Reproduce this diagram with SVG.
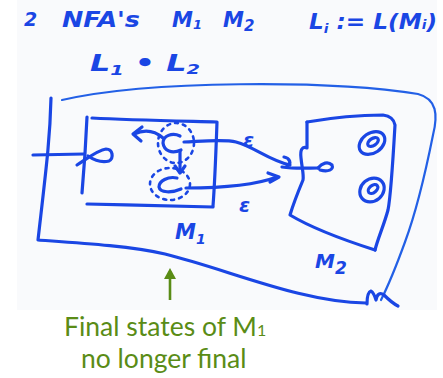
<svg xmlns="http://www.w3.org/2000/svg" width="443" height="378" viewBox="0 0 443 378">
  <style>
    .ink { fill: none; stroke: #1a46e4; stroke-width: 3.2; stroke-linecap: round; stroke-linejoin: round; }
    .thin { fill: none; stroke: #2360e6; stroke-width: 2.2; stroke-linecap: round; stroke-linejoin: round; }
    .dot { fill: none; stroke: #1a46e4; stroke-width: 2.6; stroke-dasharray: 3 5; stroke-linecap: round; }
    .hand { fill: #1a46e4; font-family: "DejaVu Sans", "Liberation Sans", sans-serif; font-weight: bold; font-style: oblique; }
    .note { fill: #5a8c16; font-family: Lato, "Noto Sans", sans-serif; font-size: 26.5px; }
    .green { fill: none; stroke: #5a8c16; stroke-width: 2.6; }
  </style>

  <!-- whiteboard photo background -->
  <rect x="17" y="0" width="420" height="310" fill="#f9fafc"/>

  <!-- heading -->
  <g id="heading">
    <text class="hand" x="24" y="26" font-size="19">2</text>
    <text class="hand" x="62" y="27" font-size="21" textLength="78" lengthAdjust="spacingAndGlyphs">NFA's</text>
    <text class="hand" x="172" y="27" font-size="21">M<tspan font-size="13" dy="2">1</tspan></text>
    <text class="hand" x="223" y="27" font-size="21">M<tspan font-size="15" dy="4">2</tspan></text>
    <text class="hand" x="309" y="29" font-size="22" textLength="128" lengthAdjust="spacingAndGlyphs">L<tspan font-size="13" dy="4">i</tspan><tspan dy="-4"> := L(M</tspan><tspan font-size="13">i</tspan>)</text>
    <text class="hand" x="90" y="71" font-size="23" textLength="110" lengthAdjust="spacingAndGlyphs">L<tspan font-size="14" dy="4">1</tspan><tspan dy="-4"> • L</tspan><tspan font-size="14" dy="3">2</tspan></text>
  </g>

  <!-- combined machine outline -->
  <g id="outline">
    <path class="thin" d="M62,100 C150,80 330,80 418,94 C437,99 438,115 433,135 C425,175 415,215 405,242 C397,264 390,282 381,300"/>
    <path class="ink" d="M51,98 C50,140 46,170 38,240 C80,243 130,246 165,254 C230,270 300,302 366,303"/>
    <path class="ink" d="M367,304 C367,298 368,292 371,291 C374,293 375,297 376,300 C377,294 380,292 384,295 C388,299 392,303 398,306"/>
  </g>

  <!-- M1 -->
  <g id="m1">
    <path class="ink" d="M92,118 C130,120 180,121 217,122 C216,150 215,180 213,206"/>
    <path class="ink" d="M87,204 C130,205 180,206 213,207"/>
    <path class="ink" d="M87,117 C86,140 84,170 82,193"/>
    <text class="hand" x="175" y="239" font-size="21">M<tspan font-size="14" dy="5">1</tspan></text>
  </g>

  <!-- start state of M1 -->
  <g id="m1-start">
    <path class="ink" d="M77,165 C88,158 98,150 106,149 C113,149 114,158 109,161 C102,163 94,160 88,156"/>
  </g>

  <!-- former final states of M1 -->
  <g id="m1-final-a">
    <path class="ink" d="M180,136 C172,132 163,136 163,143 C164,151 172,154 181,150"/>
    <ellipse class="dot" cx="176" cy="143" rx="18" ry="20"/>
  </g>
  <g id="m1-final-b">
    <path class="ink" d="M177,178 C168,176 159,181 159,187 C160,193 172,193 181,189"/>
    <ellipse class="dot" cx="170" cy="184" rx="20" ry="16"/>
  </g>

  <!-- M2 -->
  <g id="m2">
    <path class="ink" d="M307,122 C330,118 360,115 383,115 C390,116 394,119 395,125 C393,160 390,200 388,210 C384,225 378,238 375,250"/>
    <path class="ink" d="M307,122 C307,132 307,140 307,148 C302,146 300,150 301,158 C302,168 304,175 303,180 C298,192 293,205 290,215 C315,230 350,242 375,250"/>
    <text class="hand" x="315" y="268" font-size="20">M<tspan font-size="17" dy="6">2</tspan></text>
  </g>
  <g id="m2-start">
    <path class="ink" d="M318,168 C322,163 328,161 332,165 C334,170 328,172 320,170"/>
  </g>
  <g id="m2-final-a">
    <ellipse class="ink" cx="372" cy="143" rx="14" ry="10" transform="rotate(-35 372 143)"/>
    <ellipse class="ink" cx="373" cy="142" rx="6" ry="3.5" transform="rotate(-35 373 142)"/>
  </g>
  <g id="m2-final-b">
    <ellipse class="ink" cx="372" cy="190" rx="13" ry="11" transform="rotate(-40 372 190)"/>
    <ellipse class="ink" cx="373" cy="189" rx="5.5" ry="3.5" transform="rotate(-40 373 189)"/>
  </g>

  <!-- connectors -->
  <g id="connectors">
    <!-- start arrow into M1 -->
    <path class="ink" d="M33,155 L84,154"/>
    <!-- transitions inside M1 -->
    <path class="ink" d="M163,138 C155,131 145,129 134,134"/>
    <path class="ink" d="M142,127 L133,134 L141,141"/>
    <path class="ink" d="M180,151 L180,172"/>
    <path class="ink" d="M175,166 L180,173 L185,166"/>
    <!-- epsilon transitions into start of M2 -->
    <path class="ink" d="M184,142 C205,141 225,139 236,142 C255,147 268,160 290,165"/>
    <path class="ink" d="M284,157 C290,158 292,164 287,166"/>
    <path class="ink" d="M186,188 C210,188 250,187 277,177"/>
    <path class="ink" d="M268,173 L279,177 L270,182"/>
    <path class="ink" d="M282,167 C295,169 308,168 318,168"/>
    <text class="hand" x="243" y="147" font-size="20">ε</text>
    <text class="hand" x="239" y="212" font-size="20">ε</text>
  </g>

  <!-- annotation -->
  <g id="annotation">
    <path class="green" d="M170,300 L170,271"/>
    <path fill="#5a8c16" d="M164,279 L170,268 L176,279 Z"/>
    <text class="note" x="64" y="336">Final states of M<tspan font-size="16">1</tspan></text>
    <text class="note" x="81" y="368">no longer final</text>
  </g>
</svg>
